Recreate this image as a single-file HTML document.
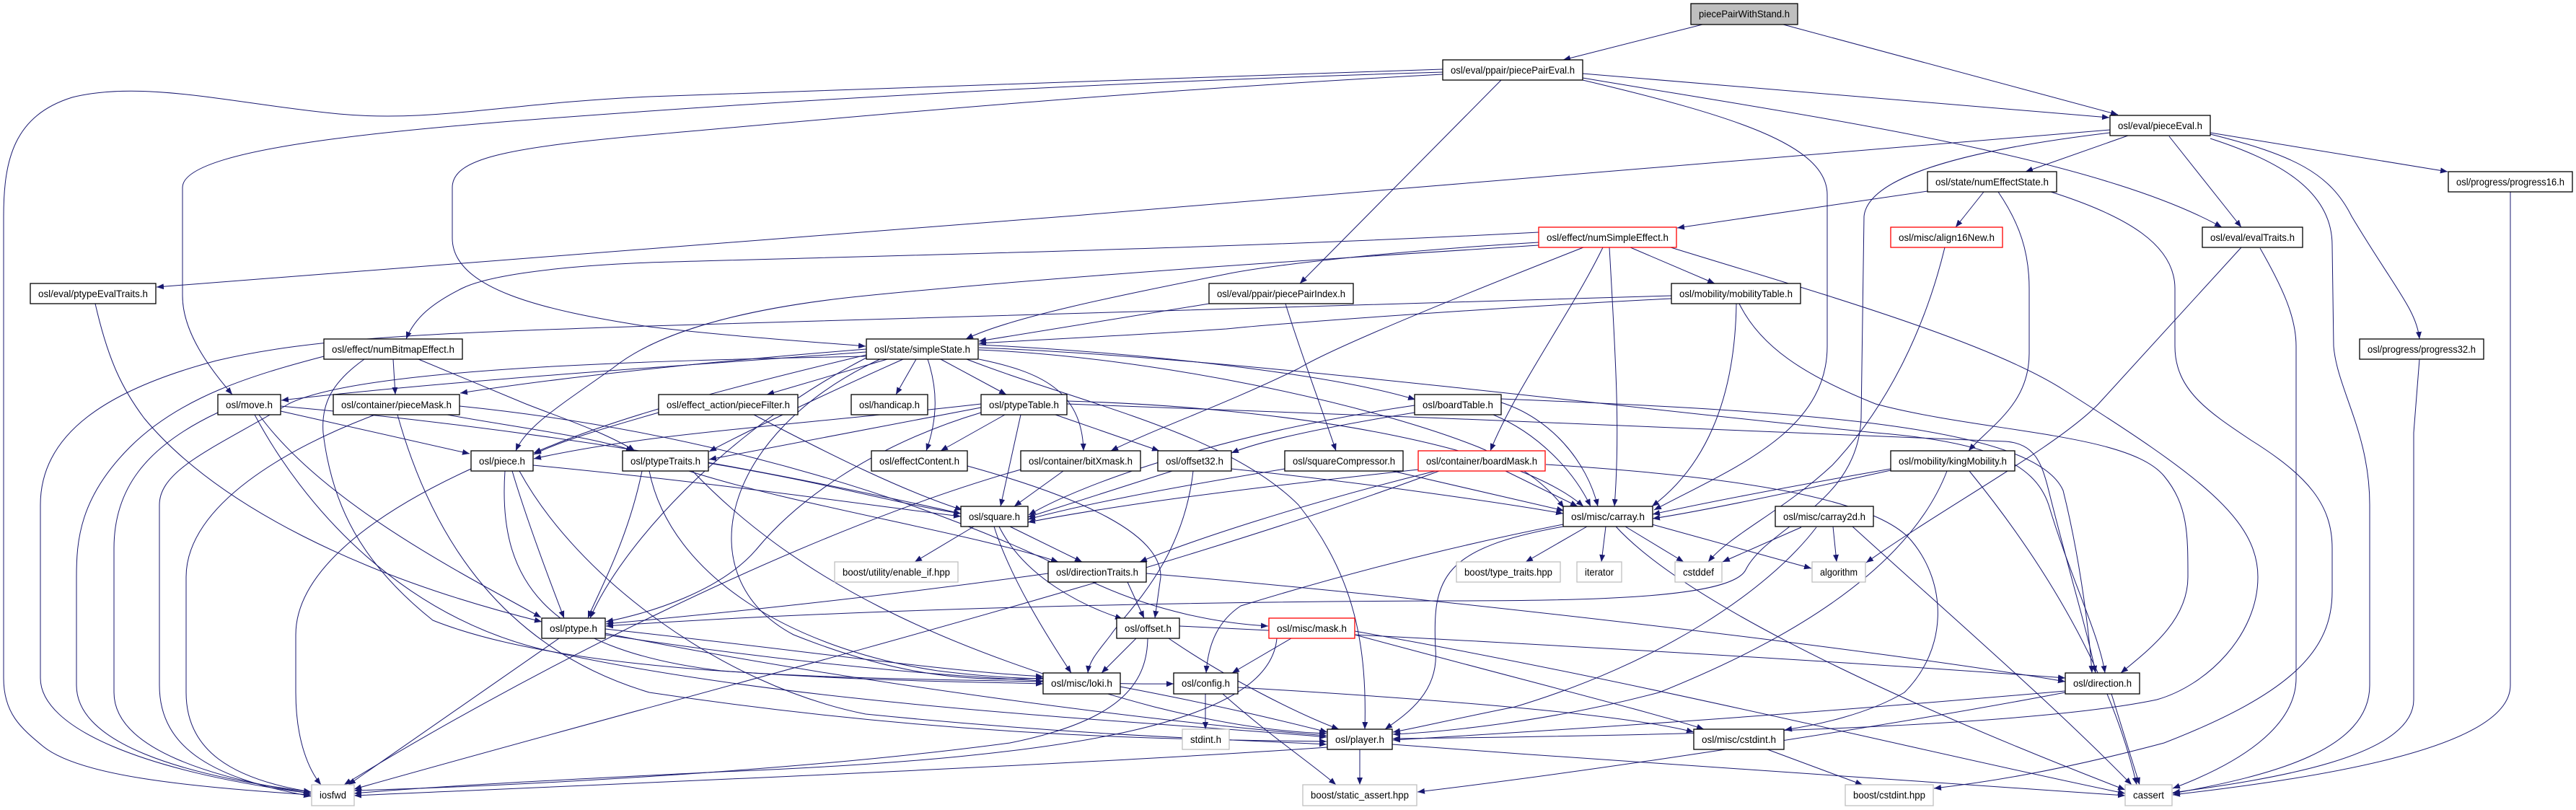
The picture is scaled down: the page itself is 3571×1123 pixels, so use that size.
<!DOCTYPE html>
<html><head><meta charset="utf-8"><style>
html,body{margin:0;padding:0;background:#fff;}
svg{display:block;}
text{font-family:"Liberation Sans",Arial,sans-serif;font-size:14px;fill:#000;}
</style></head><body>
<svg width="3571" height="1123" viewBox="0 0 3571 1123" xmlns="http://www.w3.org/2000/svg">
<defs><marker id="a" markerWidth="11" markerHeight="9" refX="10" refY="4" orient="auto" markerUnits="userSpaceOnUse"><path d="M0,0 L10,4 L0,8 z" fill="#191970"/></marker></defs>
<rect width="3571" height="1123" fill="#fff"/>
<g fill="none" stroke="#191970" stroke-width="1" marker-end="url(#a)">
<path d="M2360,34 L2167,83"/>
<path d="M2472,34 L2936,159"/>
<path d="M2194,102 L2924,163"/>
<path d="M2194,108 C2500,160 2900,215 3080,315"/>
<path d="M2194,111 C2400,160 2533,200 2533,270 L2533,480 C2533,600 2400,650 2293,707"/>
<path d="M2081,111 L1802,393"/>
<path d="M2000,96 C1600,110 1100,125 900,134 C700,143 600,170 470,158 C330,145 200,110 100,135 C20,160 5,220 5,300 L5,940 C5,990 30,1010 60,1035 C110,1075 250,1090 431,1102"/>
<path d="M2000,100 C1500,115 1100,140 900,154 C600,175 253,200 253,260 L253,410 C253,460 290,510 322,547"/>
<path d="M2000,103 C1500,130 1100,170 900,187 C700,205 627,220 627,260 L627,330 C627,400 750,430 900,453 C1000,465 1100,472 1200,480"/>
<path d="M2950,188 L2808,238"/>
<path d="M3007,189 L3107,315"/>
<path d="M3064,184 L3393,238"/>
<path d="M3064,186 C3180,215 3230,240 3260,300 C3320,400 3350,430 3354,470"/>
<path d="M3064,192 C3150,220 3233,260 3233,340 L3235,480 C3240,540 3285,600 3285,700 L3285,950 C3285,1040 3150,1075 3012,1100"/>
<path d="M2925,180 C2400,230 900,345 217,398"/>
<path d="M2925,184 C2750,205 2590,240 2584,300 L2580,580 C2575,700 2450,730 2420,790 C2400,830 2200,833 2000,833 C1500,835 1100,850 840,868"/>
<path d="M2750,266 L2711,315"/>
<path d="M2672,265 L2325,316"/>
<path d="M2770,266 C2800,310 2813,350 2813,400 L2813,490 C2813,560 2760,590 2729,625"/>
<path d="M2843,266 C2950,300 3015,340 3015,400 L3015,480 C3015,540 3060,570 3120,610 C3200,660 3233,700 3233,760 L3233,820 C3233,900 3180,960 3000,1030 C2850,1070 2750,1085 2681,1093"/>
<path d="M3480,266 L3480,950 C3480,1040 3200,1080 3012,1102"/>
<path d="M3354,498 L3346,600 L3346,970 C3346,1050 3150,1080 3012,1099"/>
<path d="M3133,344 C3165,400 3183,440 3183,480 L3183,940 C3183,1010 3100,1060 3012,1093"/>
<path d="M3107,343 L2909,560 C2850,620 2700,700 2587,780"/>
<path d="M2696,343 C2670,450 2620,560 2540,645 C2470,710 2400,740 2368,779"/>
<path d="M2133,322 C1700,345 1200,355 900,364 C750,370 670,385 640,400 C600,420 575,440 563,470"/>
<path d="M2133,336 C1900,350 1750,370 1700,380 C1550,410 1400,440 1339,470"/>
<path d="M2133,340 C1900,355 1500,380 1200,410 C1000,430 900,470 850,510 C780,560 730,590 715,625"/>
<path d="M2195,343 C2050,400 1850,480 1800,511 C1700,560 1600,595 1540,625"/>
<path d="M2222,343 C2180,430 2100,540 2066,625"/>
<path d="M2231,343 C2240,500 2246,600 2238,702"/>
<path d="M2260,343 L2377,393"/>
<path d="M2316,343 C2500,400 2750,470 2860,540 C3050,660 3130,720 3130,800 C3130,880 3060,950 2990,970 C2800,1010 2300,1020 1931,1024"/>
<path d="M132,421 C150,500 170,540 200,580 C300,700 500,800 751,862"/>
<path d="M1676,421 L1357,473"/>
<path d="M1782,421 C1800,480 1830,560 1852,625"/>
<path d="M2317,414 C2100,425 1800,446 1700,456 C1550,466 1420,472 1357,476"/>
<path d="M2317,410 C2000,418 1500,430 900,452 C600,462 436,468 300,500 C150,540 56,600 56,700 L56,940 C56,1010 200,1070 431,1100"/>
<path d="M2407,421 C2405,560 2360,650 2290,702"/>
<path d="M2411,421 C2440,480 2500,520 2600,560 C2750,600 2950,600 3000,660 C3033,700 3033,740 3033,800 C3033,860 2980,900 2940,933"/>
<path d="M545,498 L548,547"/>
<path d="M580,498 L729,560 C780,580 840,600 880,625"/>
<path d="M505,498 C460,530 445,560 448,600 C460,700 500,780 600,860 C800,940 1200,940 1446,945"/>
<path d="M449,494 C350,520 250,550 180,620 C110,690 106,750 106,800 L106,950 C106,1030 250,1075 431,1098"/>
<path d="M1230,498 L1063,547"/>
<path d="M1270,498 L1242,547"/>
<path d="M1286,498 C1300,540 1300,580 1284,625"/>
<path d="M1304,498 L1395,547"/>
<path d="M1357,498 C1440,515 1500,540 1502,625"/>
<path d="M1252,498 C1180,530 1050,590 983,626"/>
<path d="M1201,488 C900,510 600,530 390,555"/>
<path d="M1201,484 C1000,500 800,520 638,545"/>
<path d="M1201,492 C1000,540 850,580 740,628"/>
<path d="M1201,494 C900,500 500,510 400,560 C300,620 221,650 221,700 L221,950 C221,1040 300,1080 431,1104"/>
<path d="M1201,496 C1000,600 860,760 818,857"/>
<path d="M1220,498 C1000,600 950,800 1100,880 C1250,940 1350,945 1446,940"/>
<path d="M1357,485 C1600,495 1900,560 2050,620 C2120,650 2150,680 2168,704"/>
<path d="M1357,482 C1700,495 2200,560 2600,600 C2750,612 2820,640 2840,700 C2870,800 2910,880 2918,933"/>
<path d="M1357,478 C1600,490 1850,520 1962,554"/>
<path d="M1340,498 C1500,560 1700,600 1800,700 C1880,800 1895,900 1892,1011"/>
<path d="M389,570 L651,629"/>
<path d="M359,575 C450,700 650,800 750,856"/>
<path d="M353,575 C420,700 550,850 750,900 C1100,980 1600,1000 1839,1022"/>
<path d="M302,572 C200,620 158,680 158,760 L158,960 C158,1040 300,1080 431,1100"/>
<path d="M389,563 C800,600 1100,660 1332,712"/>
<path d="M637,563 C1000,600 1300,700 1500,800 C1600,850 1700,865 1758,868"/>
<path d="M520,575 C400,620 258,700 258,800 L258,960 C258,1040 320,1080 431,1098"/>
<path d="M551,575 C600,750 700,900 900,960 C1300,1020 1600,1025 1839,1028"/>
<path d="M620,575 C700,590 820,605 878,625"/>
<path d="M913,572 C850,590 780,610 740,630"/>
<path d="M1045,575 C1150,630 1250,680 1334,707"/>
<path d="M1393,575 L1304,625"/>
<path d="M1415,575 L1387,702"/>
<path d="M1463,575 L1607,625"/>
<path d="M1360,565 L983,637"/>
<path d="M1479,560 C1900,575 2500,600 2780,612 C2820,615 2830,640 2840,680 C2870,800 2895,880 2905,933"/>
<path d="M1479,556 C1800,565 2100,620 2195,702"/>
<path d="M1360,560 C1100,590 900,600 740,636"/>
<path d="M1360,572 C1200,620 1100,700 1050,760 C1000,820 900,850 840,862"/>
<path d="M1961,572 C1850,590 1750,610 1707,628"/>
<path d="M2081,558 C2150,580 2200,640 2215,702"/>
<path d="M2070,575 C2130,600 2180,650 2205,702"/>
<path d="M2081,553 C2500,570 2820,590 2860,680 C2880,760 2895,860 2900,933"/>
<path d="M1961,562 C1700,600 1500,670 1426,714"/>
<path d="M710,653 C730,720 760,800 782,857"/>
<path d="M739,645 C1000,670 1200,700 1332,716"/>
<path d="M720,653 C800,800 1000,950 1200,990 C1500,1020 1700,1025 1839,1032"/>
<path d="M653,650 C500,720 410,800 410,880 L410,960 C410,1030 430,1070 445,1088"/>
<path d="M700,653 C690,800 750,900 1000,930 C1200,945 1350,945 1446,948"/>
<path d="M890,653 C870,750 830,820 815,857"/>
<path d="M982,642 C1150,670 1250,700 1332,712"/>
<path d="M900,653 C930,800 1100,900 1300,930 C1380,940 1420,940 1446,941"/>
<path d="M960,653 C1100,800 1300,900 1600,980 C1700,1005 1780,1015 1839,1017"/>
<path d="M955,653 C1100,700 1350,740 1467,779"/>
<path d="M1341,646 C1500,690 1610,740 1609,800 L1601,857"/>
<path d="M1474,653 L1406,702"/>
<path d="M1415,651 C1100,740 700,950 477,1088"/>
<path d="M1625,653 L1425,717"/>
<path d="M1654,653 C1640,780 1560,850 1540,880 C1525,900 1510,915 1508,933"/>
<path d="M1707,650 C1900,670 2100,700 2167,712"/>
<path d="M1781,650 C1600,680 1500,700 1425,720"/>
<path d="M1930,653 L2168,708"/>
<path d="M2087,653 L2187,702"/>
<path d="M1995,653 C1600,800 1000,950 491,1094"/>
<path d="M1966,651 C1700,680 1550,700 1425,724"/>
<path d="M1990,653 C1800,700 1650,750 1580,779"/>
<path d="M2143,644 C2400,660 2600,690 2650,750 C2700,810 2700,900 2640,960 C2590,990 2520,1005 2474,1012"/>
<path d="M2621,650 C2450,680 2350,700 2291,713"/>
<path d="M2621,652 C2450,690 2350,710 2291,719"/>
<path d="M2699,653 C2650,780 2500,880 2300,960 C2150,1000 2000,1015 1931,1018"/>
<path d="M2730,653 C2850,800 2930,950 2962,1088"/>
<path d="M1350,730 L1268,779"/>
<path d="M1400,730 L1500,779"/>
<path d="M1385,730 C1420,800 1500,840 1556,858"/>
<path d="M1378,730 C1400,800 1450,880 1485,933"/>
<path d="M2200,730 L2115,779"/>
<path d="M2226,730 L2220,779"/>
<path d="M2253,730 L2334,779"/>
<path d="M2290,727 L2511,788"/>
<path d="M2167,730 C2000,760 1985,800 1990,900 C1995,960 1950,990 1920,1011"/>
<path d="M2240,730 C2350,850 2700,1000 2946,1095"/>
<path d="M2167,727 C2000,760 1850,800 1720,840 C1690,860 1675,890 1672,933"/>
<path d="M2497,731 L2388,779"/>
<path d="M2541,730 L2546,779"/>
<path d="M2518,731 C2450,820 2300,920 2100,980 C2000,1000 1960,1010 1931,1015"/>
<path d="M2568,730 C2700,850 2850,980 2955,1088"/>
<path d="M1563,807 L1586,857"/>
<path d="M1589,795 C2000,830 2600,900 2863,945"/>
<path d="M1453,795 C1200,830 1000,850 840,865"/>
<path d="M775,885 L483,1088"/>
<path d="M839,872 C1100,900 1300,930 1446,938"/>
<path d="M839,878 C1200,950 1600,1000 1839,1020"/>
<path d="M839,880 C1100,920 1400,950 1627,948"/>
<path d="M1575,885 L1527,933"/>
<path d="M1620,885 C1700,940 1800,990 1856,1011"/>
<path d="M1635,868 C2100,890 2600,920 2863,940"/>
<path d="M1591,885 C1590,950 1550,1000 1400,1030 C1100,1070 700,1090 491,1096"/>
<path d="M1790,885 L1708,933"/>
<path d="M1878,880 C2100,940 2300,990 2362,1011"/>
<path d="M1878,875 C2300,950 2700,1050 2946,1100"/>
<path d="M1770,885 C1760,1000 1500,1050 1000,1070 C800,1080 600,1090 491,1100"/>
<path d="M1553,952 C1700,980 1780,1000 1840,1015"/>
<path d="M1671,962 L1671,1011"/>
<path d="M1695,962 C1760,1020 1820,1060 1852,1088"/>
<path d="M1716,953 C2000,970 2250,990 2348,1015"/>
<path d="M2927,962 L2966,1088"/>
<path d="M2863,958 C2500,990 2200,1010 1931,1026"/>
<path d="M2863,960 C2600,1010 2200,1070 1965,1098"/>
<path d="M1885,1039 L1885,1088"/>
<path d="M1930,1032 C2300,1060 2700,1085 2946,1103"/>
<path d="M1840,1036 C1500,1060 900,1085 491,1103"/>
<path d="M2450,1039 L2582,1088"/>
</g>
<g stroke-width="1.3">
<rect x="2344" y="5" width="148" height="29" fill="#bfbfbf" stroke="#000"/><text x="2418" y="24" text-anchor="middle" textLength="126" lengthAdjust="spacingAndGlyphs">piecePairWithStand.h</text>
<rect x="2000" y="83" width="194" height="28" fill="#fff" stroke="#000"/><text x="2097" y="102" text-anchor="middle" textLength="172" lengthAdjust="spacingAndGlyphs">osl/eval/ppair/piecePairEval.h</text>
<rect x="2925" y="160" width="139" height="28" fill="#fff" stroke="#000"/><text x="2994.5" y="179" text-anchor="middle" textLength="117" lengthAdjust="spacingAndGlyphs">osl/eval/pieceEval.h</text>
<rect x="2672" y="238" width="179" height="28" fill="#fff" stroke="#000"/><text x="2761.5" y="257" text-anchor="middle" textLength="157" lengthAdjust="spacingAndGlyphs">osl/state/numEffectState.h</text>
<rect x="3394" y="238" width="172" height="28" fill="#fff" stroke="#000"/><text x="3480" y="257" text-anchor="middle" textLength="150" lengthAdjust="spacingAndGlyphs">osl/progress/progress16.h</text>
<rect x="2133" y="315" width="191" height="28" fill="#fff" stroke="#f00"/><text x="2228.5" y="334" text-anchor="middle" textLength="169" lengthAdjust="spacingAndGlyphs">osl/effect/numSimpleEffect.h</text>
<rect x="2621" y="315" width="155" height="28" fill="#fff" stroke="#f00"/><text x="2698.5" y="334" text-anchor="middle" textLength="133" lengthAdjust="spacingAndGlyphs">osl/misc/align16New.h</text>
<rect x="3053" y="315" width="139" height="28" fill="#fff" stroke="#000"/><text x="3122.5" y="334" text-anchor="middle" textLength="117" lengthAdjust="spacingAndGlyphs">osl/eval/evalTraits.h</text>
<rect x="42" y="393" width="174" height="28" fill="#fff" stroke="#000"/><text x="129" y="412" text-anchor="middle" textLength="152" lengthAdjust="spacingAndGlyphs">osl/eval/ptypeEvalTraits.h</text>
<rect x="1676" y="393" width="200" height="28" fill="#fff" stroke="#000"/><text x="1776" y="412" text-anchor="middle" textLength="178" lengthAdjust="spacingAndGlyphs">osl/eval/ppair/piecePairIndex.h</text>
<rect x="2317" y="393" width="179" height="28" fill="#fff" stroke="#000"/><text x="2406.5" y="412" text-anchor="middle" textLength="157" lengthAdjust="spacingAndGlyphs">osl/mobility/mobilityTable.h</text>
<rect x="3271" y="470" width="172" height="28" fill="#fff" stroke="#000"/><text x="3357" y="489" text-anchor="middle" textLength="150" lengthAdjust="spacingAndGlyphs">osl/progress/progress32.h</text>
<rect x="449" y="470" width="192" height="28" fill="#fff" stroke="#000"/><text x="545" y="489" text-anchor="middle" textLength="170" lengthAdjust="spacingAndGlyphs">osl/effect/numBitmapEffect.h</text>
<rect x="1201" y="470" width="155" height="28" fill="#fff" stroke="#000"/><text x="1278.5" y="489" text-anchor="middle" textLength="133" lengthAdjust="spacingAndGlyphs">osl/state/simpleState.h</text>
<rect x="302" y="547" width="87" height="28" fill="#fff" stroke="#000"/><text x="345.5" y="566" text-anchor="middle" textLength="65" lengthAdjust="spacingAndGlyphs">osl/move.h</text>
<rect x="462" y="547" width="175" height="28" fill="#fff" stroke="#000"/><text x="549.5" y="566" text-anchor="middle" textLength="153" lengthAdjust="spacingAndGlyphs">osl/container/pieceMask.h</text>
<rect x="913" y="547" width="193" height="28" fill="#fff" stroke="#000"/><text x="1009.5" y="566" text-anchor="middle" textLength="171" lengthAdjust="spacingAndGlyphs">osl/effect_action/pieceFilter.h</text>
<rect x="1180" y="547" width="106" height="28" fill="#fff" stroke="#000"/><text x="1233" y="566" text-anchor="middle" textLength="84" lengthAdjust="spacingAndGlyphs">osl/handicap.h</text>
<rect x="1360" y="547" width="119" height="28" fill="#fff" stroke="#000"/><text x="1419.5" y="566" text-anchor="middle" textLength="97" lengthAdjust="spacingAndGlyphs">osl/ptypeTable.h</text>
<rect x="1961" y="547" width="120" height="28" fill="#fff" stroke="#000"/><text x="2021" y="566" text-anchor="middle" textLength="98" lengthAdjust="spacingAndGlyphs">osl/boardTable.h</text>
<rect x="653" y="625" width="86" height="28" fill="#fff" stroke="#000"/><text x="696" y="644" text-anchor="middle" textLength="64" lengthAdjust="spacingAndGlyphs">osl/piece.h</text>
<rect x="863" y="625" width="119" height="28" fill="#fff" stroke="#000"/><text x="922.5" y="644" text-anchor="middle" textLength="97" lengthAdjust="spacingAndGlyphs">osl/ptypeTraits.h</text>
<rect x="1208" y="625" width="133" height="28" fill="#fff" stroke="#000"/><text x="1274.5" y="644" text-anchor="middle" textLength="111" lengthAdjust="spacingAndGlyphs">osl/effectContent.h</text>
<rect x="1415" y="625" width="166" height="28" fill="#fff" stroke="#000"/><text x="1498" y="644" text-anchor="middle" textLength="144" lengthAdjust="spacingAndGlyphs">osl/container/bitXmask.h</text>
<rect x="1605" y="625" width="102" height="28" fill="#fff" stroke="#000"/><text x="1656" y="644" text-anchor="middle" textLength="80" lengthAdjust="spacingAndGlyphs">osl/offset32.h</text>
<rect x="1781" y="625" width="164" height="28" fill="#fff" stroke="#000"/><text x="1863" y="644" text-anchor="middle" textLength="142" lengthAdjust="spacingAndGlyphs">osl/squareCompressor.h</text>
<rect x="1966" y="625" width="176" height="28" fill="#fff" stroke="#f00"/><text x="2054" y="644" text-anchor="middle" textLength="154" lengthAdjust="spacingAndGlyphs">osl/container/boardMask.h</text>
<rect x="2621" y="625" width="172" height="28" fill="#fff" stroke="#000"/><text x="2707" y="644" text-anchor="middle" textLength="150" lengthAdjust="spacingAndGlyphs">osl/mobility/kingMobility.h</text>
<rect x="1332" y="702" width="93" height="28" fill="#fff" stroke="#000"/><text x="1378.5" y="721" text-anchor="middle" textLength="71" lengthAdjust="spacingAndGlyphs">osl/square.h</text>
<rect x="2167" y="702" width="124" height="28" fill="#fff" stroke="#000"/><text x="2229" y="721" text-anchor="middle" textLength="102" lengthAdjust="spacingAndGlyphs">osl/misc/carray.h</text>
<rect x="2461" y="702" width="136" height="28" fill="#fff" stroke="#000"/><text x="2529" y="721" text-anchor="middle" textLength="114" lengthAdjust="spacingAndGlyphs">osl/misc/carray2d.h</text>
<rect x="1157" y="779" width="171" height="28" fill="#fff" stroke="#bfbfbf"/><text x="1242.5" y="798" text-anchor="middle" textLength="149" lengthAdjust="spacingAndGlyphs">boost/utility/enable_if.hpp</text>
<rect x="1453" y="779" width="136" height="28" fill="#fff" stroke="#000"/><text x="1521" y="798" text-anchor="middle" textLength="114" lengthAdjust="spacingAndGlyphs">osl/directionTraits.h</text>
<rect x="2019" y="779" width="144" height="28" fill="#fff" stroke="#bfbfbf"/><text x="2091" y="798" text-anchor="middle" textLength="122" lengthAdjust="spacingAndGlyphs">boost/type_traits.hpp</text>
<rect x="2186" y="779" width="62" height="28" fill="#fff" stroke="#bfbfbf"/><text x="2217" y="798" text-anchor="middle" textLength="40" lengthAdjust="spacingAndGlyphs">iterator</text>
<rect x="2322" y="779" width="65" height="28" fill="#fff" stroke="#bfbfbf"/><text x="2354.5" y="798" text-anchor="middle" textLength="43" lengthAdjust="spacingAndGlyphs">cstddef</text>
<rect x="2512" y="779" width="74" height="28" fill="#fff" stroke="#bfbfbf"/><text x="2549" y="798" text-anchor="middle" textLength="52" lengthAdjust="spacingAndGlyphs">algorithm</text>
<rect x="751" y="857" width="88" height="28" fill="#fff" stroke="#000"/><text x="795" y="876" text-anchor="middle" textLength="66" lengthAdjust="spacingAndGlyphs">osl/ptype.h</text>
<rect x="1548" y="857" width="87" height="28" fill="#fff" stroke="#000"/><text x="1591.5" y="876" text-anchor="middle" textLength="65" lengthAdjust="spacingAndGlyphs">osl/offset.h</text>
<rect x="1759" y="857" width="119" height="28" fill="#fff" stroke="#f00"/><text x="1818.5" y="876" text-anchor="middle" textLength="97" lengthAdjust="spacingAndGlyphs">osl/misc/mask.h</text>
<rect x="1446" y="933" width="107" height="29" fill="#fff" stroke="#000"/><text x="1499.5" y="952" text-anchor="middle" textLength="85" lengthAdjust="spacingAndGlyphs">osl/misc/loki.h</text>
<rect x="1627" y="933" width="89" height="29" fill="#fff" stroke="#000"/><text x="1671.5" y="952" text-anchor="middle" textLength="67" lengthAdjust="spacingAndGlyphs">osl/config.h</text>
<rect x="2863" y="933" width="103" height="29" fill="#fff" stroke="#000"/><text x="2914.5" y="952" text-anchor="middle" textLength="81" lengthAdjust="spacingAndGlyphs">osl/direction.h</text>
<rect x="1639" y="1011" width="65" height="28" fill="#fff" stroke="#bfbfbf"/><text x="1671.5" y="1030" text-anchor="middle" textLength="43" lengthAdjust="spacingAndGlyphs">stdint.h</text>
<rect x="1840" y="1011" width="90" height="28" fill="#fff" stroke="#000"/><text x="1885" y="1030" text-anchor="middle" textLength="68" lengthAdjust="spacingAndGlyphs">osl/player.h</text>
<rect x="2348" y="1011" width="125" height="28" fill="#fff" stroke="#000"/><text x="2410.5" y="1030" text-anchor="middle" textLength="103" lengthAdjust="spacingAndGlyphs">osl/misc/cstdint.h</text>
<rect x="432" y="1088" width="59" height="29" fill="#fff" stroke="#bfbfbf"/><text x="461.5" y="1107" text-anchor="middle" textLength="37" lengthAdjust="spacingAndGlyphs">iosfwd</text>
<rect x="1806" y="1088" width="158" height="29" fill="#fff" stroke="#bfbfbf"/><text x="1885" y="1107" text-anchor="middle" textLength="136" lengthAdjust="spacingAndGlyphs">boost/static_assert.hpp</text>
<rect x="2558" y="1088" width="122" height="29" fill="#fff" stroke="#bfbfbf"/><text x="2619" y="1107" text-anchor="middle" textLength="100" lengthAdjust="spacingAndGlyphs">boost/cstdint.hpp</text>
<rect x="2946" y="1088" width="65" height="29" fill="#fff" stroke="#bfbfbf"/><text x="2978.5" y="1107" text-anchor="middle" textLength="43" lengthAdjust="spacingAndGlyphs">cassert</text>
</g>
</svg>
</body></html>
